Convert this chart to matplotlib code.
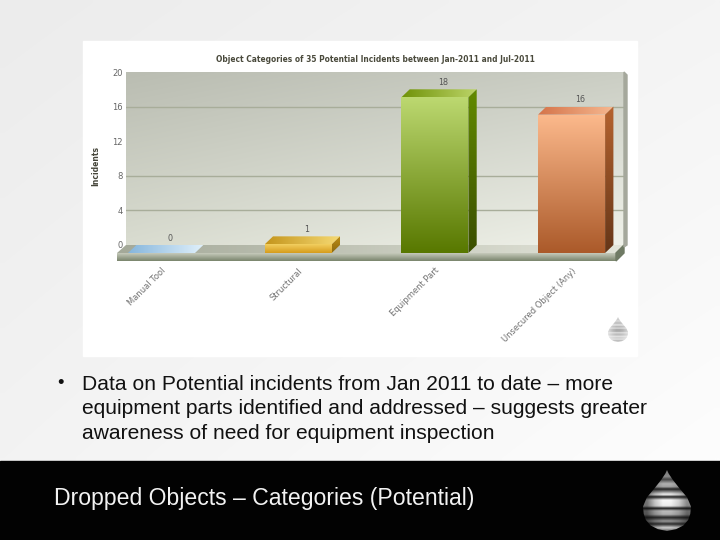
import numpy as np
import matplotlib
matplotlib.use("Agg")
import matplotlib.pyplot as plt
from matplotlib.colors import to_rgb
from matplotlib.patches import Polygon, Rectangle

categories = ["Manual Tool", "Structural", "Equipment Part", "Unsecured Object (Any)"]
incidents = [0, 1, 18, 16]
y_ticks = [0, 4, 8, 12, 16, 20]
chart_title = "Object Categories of 35 Potential Incidents between Jan-2011 and Jul-2011"
y_title = "Incidents"
bullet_lines = ["Data on Potential incidents from Jan 2011 to date \u2013 more",
                "equipment parts identified and addressed \u2013 suggests greater",
                "awareness of need for equipment inspection"]
slide_title = "Dropped Objects \u2013 Categories (Potential)"

front_colors = [("#a9cdea", "#a9cdea"), ("#f2cf60", "#d69c1c"), ("#bcd870", "#587800"), ("#fcb98c", "#ab5a2a")]
top_colors = [("#86b6dc", "#e0f0fb"), ("#c4951c", "#f6da74"), ("#6f9208", "#bcd468"), ("#d5744a", "#f6b890")]
side_colors = [("#a9cdea", "#a9cdea"), ("#bd8c12", "#8c6a10"), ("#628a00", "#3a4e00"), ("#b5632f", "#663618")]

W, H = 720, 540
fig = plt.figure(figsize=(7.2, 5.4), dpi=100)
plt.rcParams["font.family"] = "DejaVu Sans"


def box(l, t, r, b):
    return [l / W, 1 - b / H, (r - l) / W, (b - t) / H]


def corners(tl, tr, bl, br, n=80):
    """Smooth image blending four corner colours."""
    tl, tr, bl, br = [np.array(to_rgb(c)) for c in (tl, tr, bl, br)]
    u = np.linspace(0, 1, n)[None, :, None]
    v = np.linspace(0, 1, n)[:, None, None]
    return (1 - v) * ((1 - u) * tl + u * tr) + v * ((1 - u) * bl + u * br)


def fill(ax, verts, c0, c1, horizontal=False, z=3):
    verts = np.asarray(verts, float)
    arr = corners(c0, c1, c0, c1) if horizontal else corners(c0, c0, c1, c1)
    l, r = verts[:, 0].min(), verts[:, 0].max()
    b, t = verts[:, 1].min(), verts[:, 1].max()
    im = ax.imshow(arr, extent=(l, r, b, t), origin="upper", aspect="auto",
                   interpolation="bilinear", zorder=z)
    im.set_clip_path(Polygon(verts, closed=True, transform=ax.transData))


# ---------- slide background ----------
bg = fig.add_axes([0, 0, 1, 1], zorder=0)
bg.axis("off")
bg.imshow(corners("#ececec", "#f4f4f4", "#f3f3f3", "#fdfdfd"),
          extent=(0, W, 461, 0), aspect="auto", interpolation="bilinear", zorder=0)
bg.add_patch(Rectangle((0, 461), W, 79, color="#020202", zorder=1))
bg.add_patch(Rectangle((83, 41), 554, 315, color="white", zorder=1))
for i, line in enumerate(bullet_lines):
    bg.text(82, 384 + i * 24.6, line, family="Liberation Sans", fontsize=15.15,
            va="center", ha="left", color="#111111", zorder=3)
bg.text(57, 384, "\u2022", family="Liberation Sans", fontsize=13.35, va="center", ha="left",
        color="#111111", zorder=3)
bg.text(54, 498.5, slide_title, family="Liberation Sans", fontsize=16.55, va="center", ha="left",
        color="#f2f2f2", zorder=3)

# drop logos
drop_fx = [0.0, 0.06, 0.16, 0.30, 0.45, 0.60, 0.72, 0.82, 0.91, 0.97, 1.0]
drop_hw = [0.0, 0.07, 0.24, 0.52, 0.84, 1.0, 0.97, 0.88, 0.68, 0.38, 0.0]
band_fx = [0.00, 0.10, 0.15, 0.22, 0.27, 0.31, 0.40, 0.44, 0.49, 0.59, 0.63, 0.67, 0.73, 0.78, 0.84, 0.89, 0.95, 1.00]
band_v = [0.45, 0.55, 0.25, 0.70, 0.65, 0.10, 1.00, 0.10, 1.00, 0.95, 0.08, 0.75, 0.70, 0.12, 0.60, 0.15, 0.85, 0.40]


def drop(cx, top, bottom, half, lo, hi, z=4):
    fx = np.array(drop_fx)
    hw = np.array(drop_hw)
    ys = top + fx * (bottom - top)
    verts = np.r_[np.c_[cx - hw * half, ys], np.c_[cx + hw * half, ys][::-1]]
    rows = np.linspace(0, 1, 90)
    vals = np.interp(rows, band_fx, band_v)[:, None] * np.array([0.45, 0.8, 1.0, 1.0, 0.85, 0.55])[None, :]
    im = bg.imshow(lo + (hi - lo) * vals, cmap="gray", vmin=0, vmax=1, aspect="auto",
                   extent=(cx - half, cx + half, bottom, top), interpolation="bilinear", zorder=z)
    im.set_clip_path(Polygon(verts, closed=True, transform=bg.transData))


drop(667, 470, 531, 24, 0.03, 0.97)
drop(618, 317, 342, 10, 0.95, 0.66)
bg.set_xlim(0, W)
bg.set_ylim(H, 0)

# ---------- back wall with its value axis ----------
wall = fig.add_axes(box(126, 72, 624, 245), zorder=1)
wall.imshow(corners("#babdb2", "#cbcec4", "#d9dcd0", "#eff1e9"),
            extent=(0, 1, 0, 20), origin="upper", aspect="auto", interpolation="bilinear", zorder=0)
wall.set_xlim(0, 1)
wall.set_ylim(0, 20)
wall.set_yticks(y_ticks)
wall.set_xticks([])
wall.grid(axis="y", color="#a8ad9a", lw=1)
wall.set_axisbelow(False)
for tick_value, gl in zip(y_ticks, wall.get_ygridlines()):
    if tick_value in (0, 12, 20):
        gl.set_visible(False)
wall.tick_params(axis="y", length=0, pad=2.5, labelsize=6, labelcolor="#666666")
for s in wall.spines.values():
    s.set_visible(False)
wall.set_title(chart_title, fontsize=5.45, fontweight="bold", color="#4a4a3c", pad=7.5)
wall.set_ylabel(y_title, fontsize=5.5, fontweight="bold", color="#45453a")
wall.yaxis.set_label_coords(-0.052, 0.455)

# ---------- floor and bars: value scale shared with the wall ----------
UX, UY = 136.7, 8.65
ax = fig.add_axes(box(93.15, 60, 639.95, 262), zorder=2)
ax.patch.set_alpha(0)
xlim = (-0.5, 3.5)
ylim = (-9 / UY, 193 / UY)
DX, DY = 8.3 / UX, 8 / UY
HW = 33.5 / UX


def px(x):
    return (x - 161.5) / UX


for s in ax.spines.values():
    s.set_visible(False)

# floor
fill(ax, [(px(117), 0), (px(126), DY), (px(624), DY), (px(616), 0)], "#a4a999", "#e3e5da", True, 2)
fill(ax, [(px(117), 0), (px(616), 0), (px(616), -8 / UY), (px(117), -8 / UY)], "#c6cabb", "#79846c", False, 2)
ax.add_patch(Polygon([(px(616), 0), (px(624), DY), (px(624), 0), (px(616), -8 / UY)], color="#6f7a64", zorder=2))
ax.add_patch(Polygon([(px(624), DY - 2 / UY), (px(627), DY), (px(627), 20 + DY - 3 / UY), (px(624), 20 + DY)],
                     color="#a5a89c", zorder=2))

for i, v in enumerate(incidents):
    l, r = i - HW, i + HW
    fill(ax, [(l, v), (l + DX, v + DY), (r + DX, v + DY), (r, v)], *top_colors[i], True, 4)
    if v > 0:
        fill(ax, [(l, 0), (r, 0), (r, v), (l, v)], *front_colors[i], False, 4)
        fill(ax, [(r, 0), (r + DX, DY), (r + DX, v + DY), (r, v)], *side_colors[i], False, 4)
    ax.annotate(str(v), (i + DX, v + DY), xytext=(0, 5), textcoords="offset points",
                ha="center", va="center", fontsize=5.8, color="#555555", zorder=5)

ax.set_xlim(xlim)
ax.set_ylim(ylim)
ax.set_yticks([])
ax.set_xticks(range(len(categories)))
ax.set_xticklabels(categories, rotation=45, ha="right", va="top", rotation_mode="anchor",
                   fontsize=6, color="#707070")
ax.tick_params(axis="x", length=0, pad=3)

fig.savefig("out.png", dpi=100)
